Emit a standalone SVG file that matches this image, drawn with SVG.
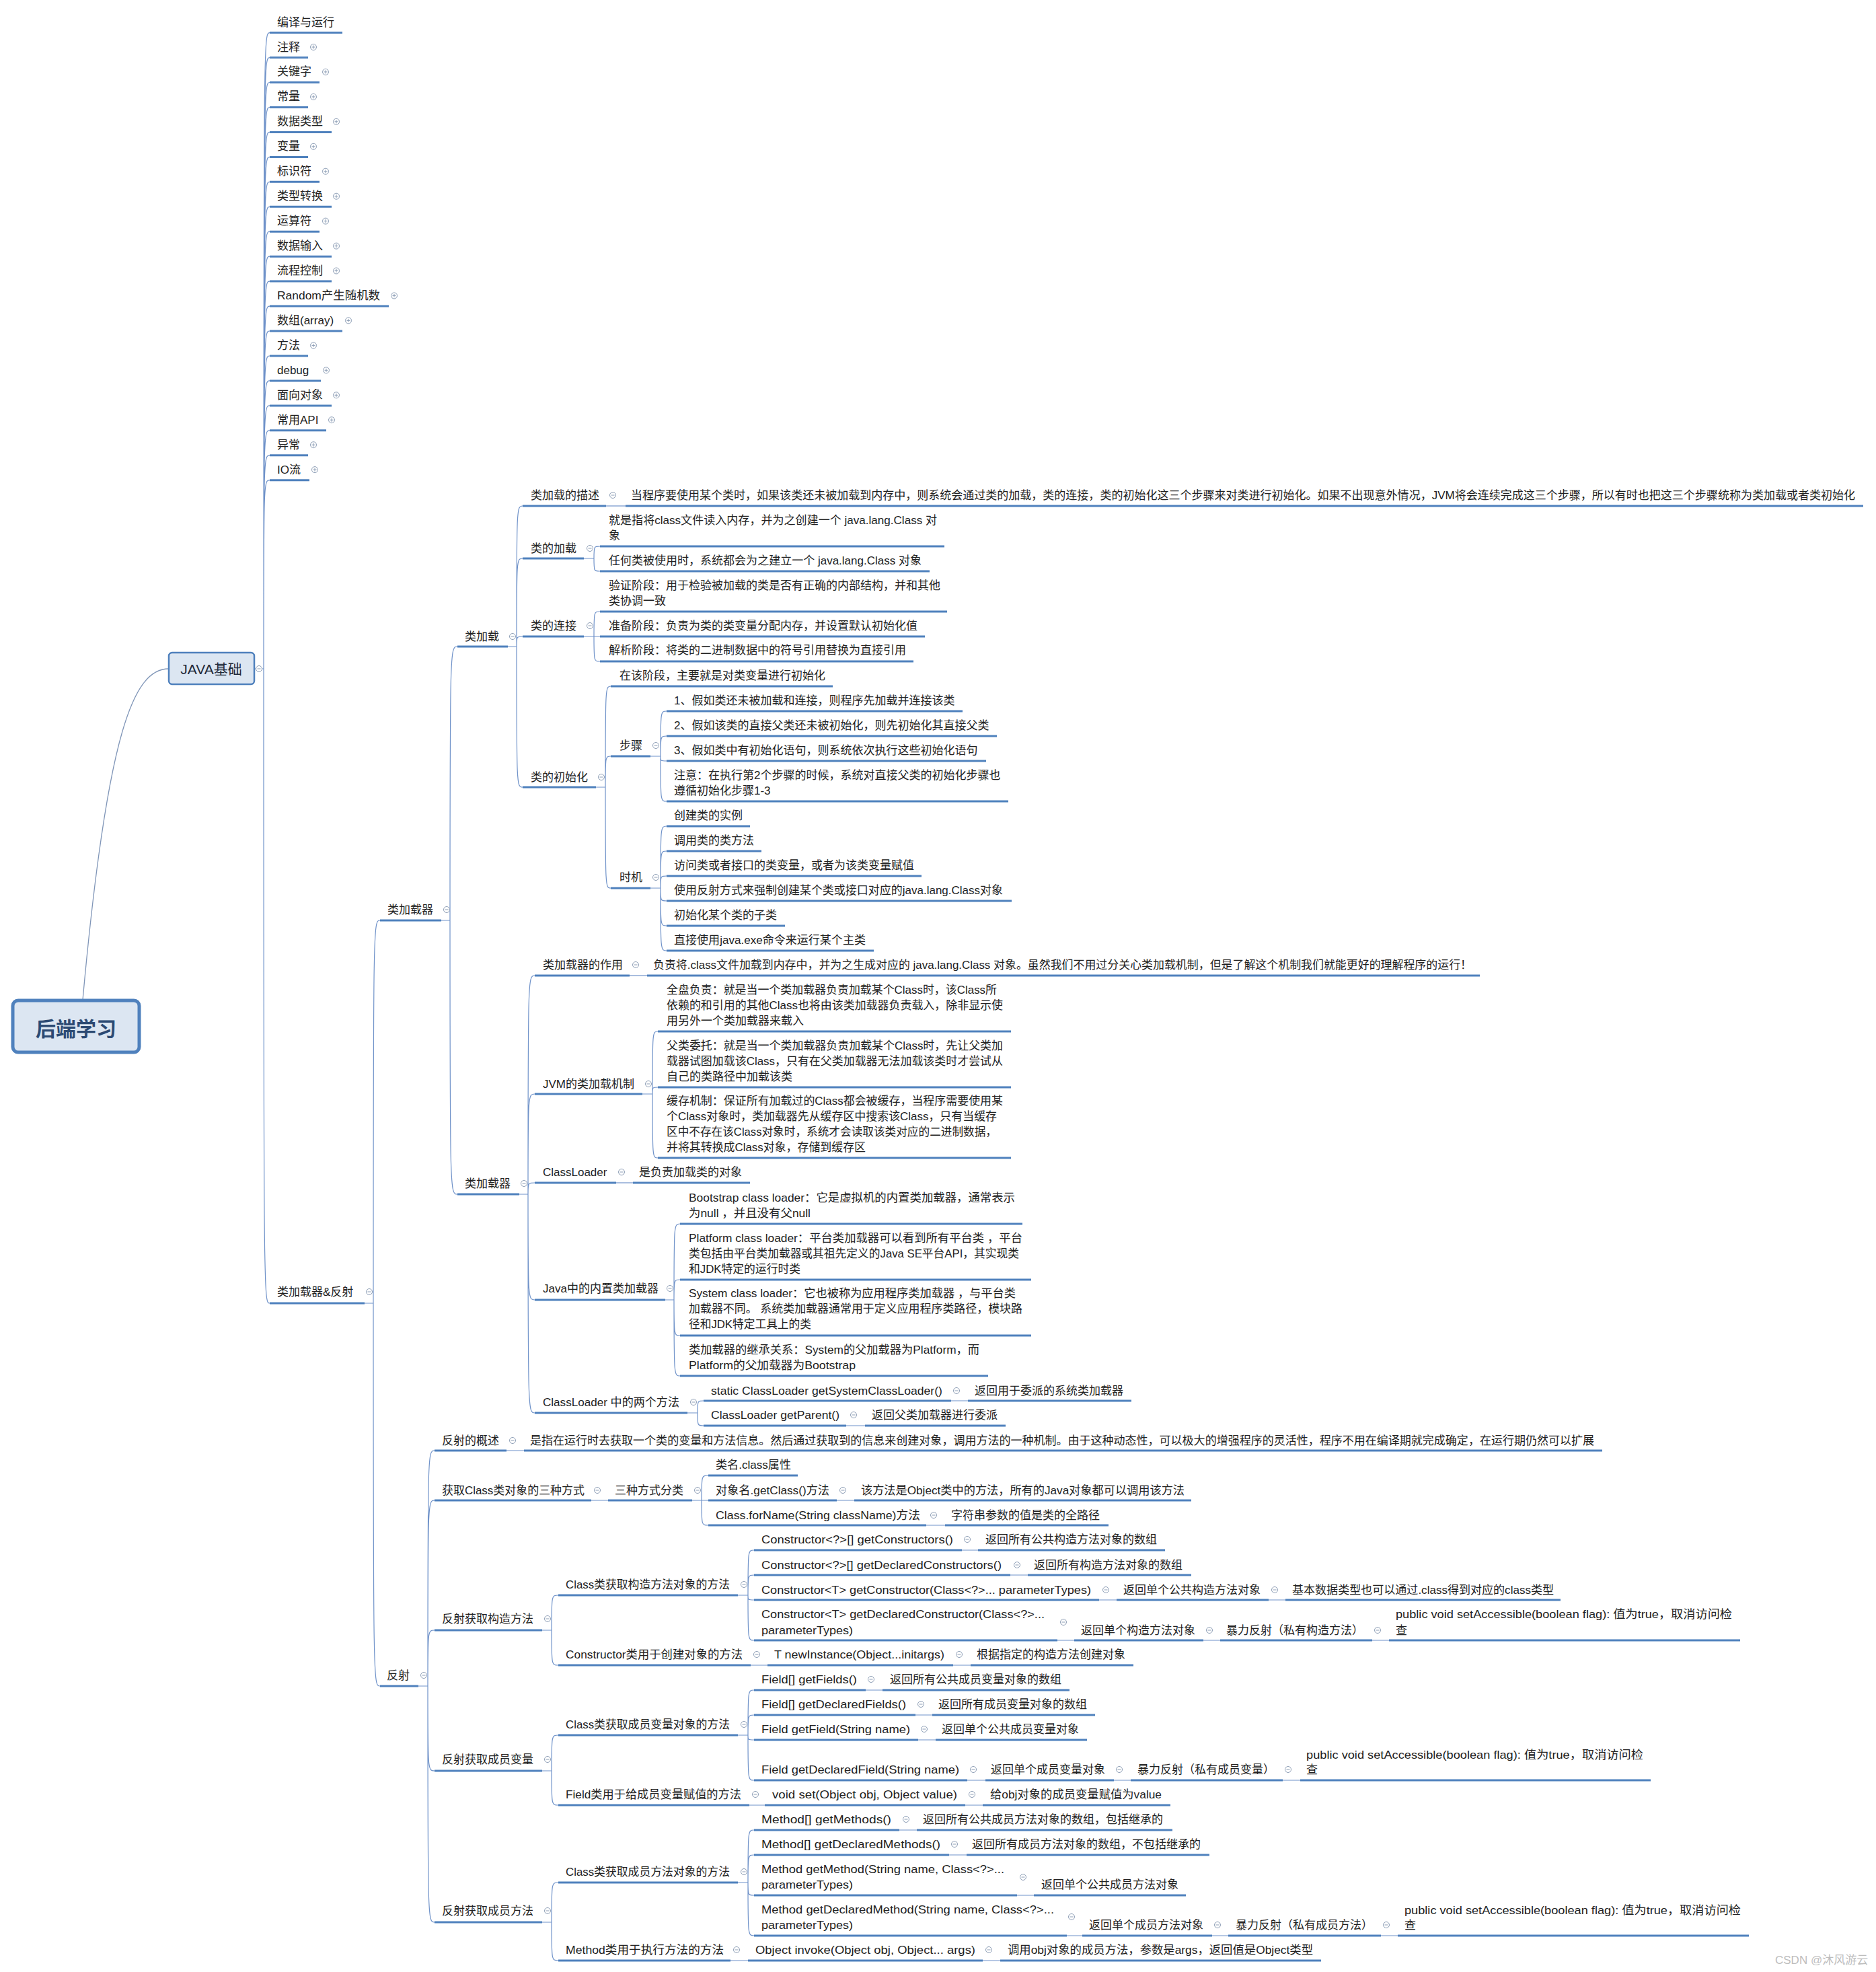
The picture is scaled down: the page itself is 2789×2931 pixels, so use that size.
<svg xmlns="http://www.w3.org/2000/svg" xmlns:xlink="http://www.w3.org/1999/xlink" width="2789" height="2931" viewBox="0 0 2789 2931">
<style>
.t{font-family:"Liberation Sans","Noto Sans CJK SC",sans-serif;font-size:17px;fill:#222;dominant-baseline:central}
.u{stroke:#4f81bd;stroke-width:3;fill:none}
.c{stroke:#6f92c9;stroke-width:1.2;fill:none}
.c0{stroke:#8096b8;stroke-width:1.3;fill:none}
.wm{font-family:"Liberation Sans","Noto Sans CJK SC",sans-serif;font-size:17px;fill:#bdbdbd;dominant-baseline:central}
</style>
<defs>
<g id="mi"><circle r="4.5" fill="#fff" stroke="#8c9db5" stroke-width="1"/><path d="M-2.5 0H2.5" stroke="#8c9db5" stroke-width="1"/></g>
<g id="pl"><circle r="4.5" fill="#fff" stroke="#8c9db5" stroke-width="1"/><path d="M-2.5 0H2.5M0 -2.5V2.5" stroke="#8c9db5" stroke-width="1"/></g>
</defs>
<rect width="2789" height="2931" fill="#fff"/>
<g id="connectors">
<path class="c0" d="M251 994C200 994 160 1080 123 1486"/>
<path class="c" d="M378 994H392C392 48.6 392 48.6 401 48.6M378 994H392C392 85.6 392 85.6 401 85.6M378 994H392C392 122.5 392 122.5 401 122.5M378 994H392C392 159.5 392 159.5 401 159.5M378 994H392C392 196.4 392 196.4 401 196.4M378 994H392C392 233.4 392 233.4 401 233.4M378 994H392C392 270.3 392 270.3 401 270.3M378 994H392C392 307.3 392 307.3 401 307.3M378 994H392C392 344.2 392 344.2 401 344.2M378 994H392C392 381.2 392 381.2 401 381.2M378 994H392C392 418.1 392 418.1 401 418.1M378 994H392C392 455.1 392 455.1 401 455.1M378 994H392C392 492 392 492 401 492M378 994H392C392 529 392 529 401 529M378 994H392C392 565.9 392 565.9 401 565.9M378 994H392C392 602.9 392 602.9 401 602.9M378 994H392C392 639.8 392 639.8 401 639.8M378 994H392C392 676.8 392 676.8 401 676.8M378 994H392C392 713.7 392 713.7 401 713.7M378 994H392C392 1937 392 1937 401 1937"/>
<path class="c" d="M542 1937H555C555 1368 555 1368 565 1368M542 1937H555C555 2506 555 2506 565 2506"/>
<path class="c" d="M656 1368H669C669 961 669 961 680 961M656 1368H669C669 1775 669 1775 680 1775"/>
<path class="c" d="M755 961H768C768 752 768 752 777 752M755 961H768C768 830 768 830 777 830M755 961H768C768 946 768 946 777 946M755 961H768C768 1170 768 1170 777 1170"/>
<path class="c" d="M901 752H930"/>
<path class="c" d="M868 830H883C883 812 883 812 892 812M868 830H883C883 849 883 849 892 849"/>
<path class="c" d="M868 946H883C883 909 883 909 892 909M868 946H892M868 946H883C883 983 883 983 892 983"/>
<path class="c" d="M886 1170H900C900 1020 900 1020 908 1020M886 1170H900C900 1124 900 1124 908 1124M886 1170H900C900 1320 900 1320 908 1320"/>
<path class="c" d="M967 1124H982C982 1057 982 1057 991 1057M967 1124H982C982 1094 982 1094 991 1094M967 1124H982C982 1131 982 1131 991 1131M967 1124H982C982 1191 982 1191 991 1191"/>
<path class="c" d="M967 1320H982C982 1228 982 1228 991 1228M967 1320H982C982 1265 982 1265 991 1265M967 1320H982C982 1302 982 1302 991 1302M967 1320H982C982 1339 982 1339 991 1339M967 1320H982C982 1376 982 1376 991 1376M967 1320H982C982 1413 982 1413 991 1413"/>
<path class="c" d="M772 1775H785C785 1450 785 1450 795 1450M772 1775H785C785 1626 785 1626 795 1626M772 1775H785C785 1758 785 1758 795 1758M772 1775H785C785 1932 785 1932 795 1932M772 1775H785C785 2100 785 2100 795 2100"/>
<path class="c" d="M936 1450H962"/>
<path class="c" d="M955 1626H970C970 1533 970 1533 978 1533M955 1626H970C970 1616 970 1616 978 1616M955 1626H970C970 1721 970 1721 978 1721"/>
<path class="c" d="M916 1758H941"/>
<path class="c" d="M989 1932H1002C1002 1819 1002 1819 1011 1819M989 1932H1002C1002 1902 1002 1902 1011 1902M989 1932H1002C1002 1985 1002 1985 1011 1985M989 1932H1002C1002 2045 1002 2045 1011 2045"/>
<path class="c" d="M1022 2100H1037C1037 2082 1037 2082 1046 2082M1022 2100H1037C1037 2119 1037 2119 1046 2119"/>
<path class="c" d="M1414 2082H1439M1258 2119H1286"/>
<path class="c" d="M622 2506H636C636 2156 636 2156 646 2156M622 2506H636C636 2230 636 2230 646 2230M622 2506H636C636 2423 636 2423 646 2423M622 2506H636C636 2632 636 2632 646 2632M622 2506H636C636 2857 636 2857 646 2857"/>
<path class="c" d="M753 2156H779M879 2230H904"/>
<path class="c" d="M1029 2230H1043C1043 2193 1043 2193 1053 2193M1029 2230H1053M1029 2230H1043C1043 2267 1043 2267 1053 2267"/>
<path class="c" d="M1244 2230H1270M1377 2267H1405"/>
<path class="c" d="M806 2423H820C820 2371 820 2371 830 2371M806 2423H820C820 2475 820 2475 830 2475"/>
<path class="c" d="M1097 2371H1112C1112 2304 1112 2304 1121 2304M1097 2371H1112C1112 2341 1112 2341 1121 2341M1097 2371H1112C1112 2378 1112 2378 1121 2378M1097 2371H1112C1112 2438 1112 2438 1121 2438"/>
<path class="c" d="M1430 2304H1454M1502 2341H1528M1634 2378H1660M1886 2378H1911M1572 2438H1597M1789 2438H1814M2040 2438H2065M1116 2475H1141M1417 2475H1443"/>
<path class="c" d="M806 2632H820C820 2579 820 2579 830 2579M806 2632H820C820 2683 820 2683 830 2683"/>
<path class="c" d="M1097 2579H1112C1112 2512 1112 2512 1121 2512M1097 2579H1112C1112 2549 1112 2549 1121 2549M1097 2579H1112C1112 2586 1112 2586 1121 2586M1097 2579H1112C1112 2646 1112 2646 1121 2646"/>
<path class="c" d="M1287 2512H1312M1361 2549H1386M1365 2586H1391M1438 2646H1465M1656 2646H1681M1907 2646H1933M1114 2683H1137M1435 2683H1461"/>
<path class="c" d="M806 2857H820C820 2798 820 2798 830 2798M806 2857H820C820 2914 820 2914 830 2914"/>
<path class="c" d="M1097 2798H1112C1112 2720 1112 2720 1121 2720M1097 2798H1112C1112 2757 1112 2757 1121 2757M1097 2798H1112C1112 2817 1112 2817 1121 2817M1097 2798H1112C1112 2877 1112 2877 1121 2877"/>
<path class="c" d="M1337 2720H1363M1411 2757H1437M1512 2817H1537M1586 2877H1609M1802 2877H1826M2053 2877H2078M1086 2914H1112M1461 2914H1487"/>
</g>

<g id="n-root"><rect x="19" y="1487" width="188" height="77" rx="8" fill="#dce6f2" stroke="#4f81bd" stroke-width="5"/><text x="113" y="1527" text-anchor="middle" font-family="'Noto Sans CJK SC',sans-serif" font-size="30" font-weight="bold" fill="#2c4a73" dominant-baseline="central">后端学习</text></g>
<g id="n-java"><rect x="251" y="970" width="127" height="47" rx="5" fill="#dce6f2" stroke="#4f81bd" stroke-width="2.5"/><text x="314" y="994" text-anchor="middle" font-family="'Liberation Sans','Noto Sans CJK SC',sans-serif" font-size="21" fill="#1f2a3a" dominant-baseline="central">JAVA基础</text><use href="#mi" x="385" y="994"/></g>

<g id="n-j0"><text class="t" x="412" y="33">编译与运行</text><path class="u" d="M401 48.6H509"/></g>
<g id="n-j1"><text class="t" x="412" y="70">注释</text><path class="u" d="M401 85.6H458"/><use href="#pl" x="466" y="70"/></g>
<g id="n-j2"><text class="t" x="412" y="106.9">关键字</text><path class="u" d="M401 122.5H475"/><use href="#pl" x="484" y="106.9"/></g>
<g id="n-j3"><text class="t" x="412" y="143.9">常量</text><path class="u" d="M401 159.5H458"/><use href="#pl" x="466" y="143.9"/></g>
<g id="n-j4"><text class="t" x="412" y="180.8">数据类型</text><path class="u" d="M401 196.4H493"/><use href="#pl" x="500" y="180.8"/></g>
<g id="n-j5"><text class="t" x="412" y="217.8">变量</text><path class="u" d="M401 233.4H458"/><use href="#pl" x="466" y="217.8"/></g>
<g id="n-j6"><text class="t" x="412" y="254.7">标识符</text><path class="u" d="M401 270.3H475"/><use href="#pl" x="484" y="254.7"/></g>
<g id="n-j7"><text class="t" x="412" y="291.7">类型转换</text><path class="u" d="M401 307.3H493"/><use href="#pl" x="500" y="291.7"/></g>
<g id="n-j8"><text class="t" x="412" y="328.6">运算符</text><path class="u" d="M401 344.2H475"/><use href="#pl" x="484" y="328.6"/></g>
<g id="n-j9"><text class="t" x="412" y="365.6">数据输入</text><path class="u" d="M401 381.2H493"/><use href="#pl" x="500" y="365.6"/></g>
<g id="n-j10"><text class="t" x="412" y="402.5">流程控制</text><path class="u" d="M401 418.1H493"/><use href="#pl" x="500" y="402.5"/></g>
<g id="n-j11"><text class="t" x="412" y="439.5" textLength="153" lengthAdjust="spacingAndGlyphs">Random产生随机数</text><path class="u" d="M401 455.1H578"/><use href="#pl" x="586" y="439.5"/></g>
<g id="n-j12"><text class="t" x="412" y="476.4">数组(array)</text><path class="u" d="M401 492H509"/><use href="#pl" x="518" y="476.4"/></g>
<g id="n-j13"><text class="t" x="412" y="513.4">方法</text><path class="u" d="M401 529H458"/><use href="#pl" x="466" y="513.4"/></g>
<g id="n-j14"><text class="t" x="412" y="550.3">debug</text><path class="u" d="M401 565.9H477"/><use href="#pl" x="485" y="550.3"/></g>
<g id="n-j15"><text class="t" x="412" y="587.3">面向对象</text><path class="u" d="M401 602.9H493"/><use href="#pl" x="500" y="587.3"/></g>
<g id="n-j16"><text class="t" x="412" y="624.2">常用API</text><path class="u" d="M401 639.8H485"/><use href="#pl" x="493" y="624.2"/></g>
<g id="n-j17"><text class="t" x="412" y="661.2">异常</text><path class="u" d="M401 676.8H458"/><use href="#pl" x="466" y="661.2"/></g>
<g id="n-j18"><text class="t" x="412" y="698.1">IO流</text><path class="u" d="M401 713.7H460"/><use href="#pl" x="468" y="698.1"/></g>
<g id="n-j19"><text class="t" x="412" y="1920">类加载器&amp;反射</text><path class="u" d="M401 1937H542"/><use href="#mi" x="549" y="1920"/></g>

<g id="n-cl1"><text class="t" x="576" y="1352">类加载器</text><path class="u" d="M565 1368H656"/><use href="#mi" x="664" y="1352"/></g>
<g id="n-lj"><text class="t" x="691" y="946">类加载</text><path class="u" d="M680 961H755"/><use href="#mi" x="762" y="946"/></g>
<g id="n-ljms"><text class="t" x="789" y="736">类加载的描述</text><path class="u" d="M777 752H901"/><use href="#mi" x="911" y="736"/></g>
<g id="n-ljms-d"><text class="t" x="938" y="736" textLength="1820" lengthAdjust="spacingAndGlyphs">当程序要使用某个类时，如果该类还未被加载到内存中，则系统会通过类的加载，类的连接，类的初始化这三个步骤来对类进行初始化。如果不出现意外情况，JVM将会连续完成这三个步骤，所以有时也把这三个步骤统称为类加载或者类初始化</text><path class="u" d="M930 752H2770"/></g>
<g id="n-ldjz"><text class="t" x="789" y="815">类的加载</text><path class="u" d="M777 830H868"/><use href="#mi" x="877" y="815"/></g>
<g id="n-ldjz-1"><text class="t" x="905" y="773" textLength="488" lengthAdjust="spacingAndGlyphs">就是指将class文件读入内存，并为之创建一个 java.lang.Class 对</text><text class="t" x="905" y="796">象</text><path class="u" d="M892 812H1404"/></g>
<g id="n-ldjz-2"><text class="t" x="905" y="833" textLength="465" lengthAdjust="spacingAndGlyphs">任何类被使用时，系统都会为之建立一个 java.lang.Class 对象</text><path class="u" d="M892 849H1382"/></g>
<g id="n-ldlj"><text class="t" x="789" y="930">类的连接</text><path class="u" d="M777 946H868"/><use href="#mi" x="877" y="930"/></g>
<g id="n-ldlj-1"><text class="t" x="905" y="870">验证阶段：用于检验被加载的类是否有正确的内部结构，并和其他</text><text class="t" x="905" y="893">类协调一致</text><path class="u" d="M892 909H1408"/></g>
<g id="n-ldlj-2"><text class="t" x="905" y="930">准备阶段：负责为类的类变量分配内存，并设置默认初始化值</text><path class="u" d="M892 946H1375"/></g>
<g id="n-ldlj-3"><text class="t" x="905" y="966">解析阶段：将类的二进制数据中的符号引用替换为直接引用</text><path class="u" d="M892 983H1358"/></g>
<g id="n-ldcsh"><text class="t" x="789" y="1155">类的初始化</text><path class="u" d="M777 1170H886"/><use href="#mi" x="894" y="1155"/></g>
<g id="n-ldcsh-1"><text class="t" x="921" y="1004">在该阶段，主要就是对类变量进行初始化</text><path class="u" d="M908 1020H1238"/></g>
<g id="n-bz"><text class="t" x="921" y="1108">步骤</text><path class="u" d="M908 1124H967"/><use href="#mi" x="975" y="1108"/></g>
<g id="n-bz-1"><text class="t" x="1002" y="1041">1、假如类还未被加载和连接，则程序先加载并连接该类</text><path class="u" d="M991 1057H1431"/></g>
<g id="n-bz-2"><text class="t" x="1002" y="1078">2、假如该类的直接父类还未被初始化，则先初始化其直接父类</text><path class="u" d="M991 1094H1482"/></g>
<g id="n-bz-3"><text class="t" x="1002" y="1115">3、假如类中有初始化语句，则系统依次执行这些初始化语句</text><path class="u" d="M991 1131H1466"/></g>
<g id="n-bz-4"><text class="t" x="1002" y="1152">注意：在执行第2个步骤的时候，系统对直接父类的初始化步骤也</text><text class="t" x="1002" y="1175">遵循初始化步骤1-3</text><path class="u" d="M991 1191H1499"/></g>
<g id="n-sj"><text class="t" x="921" y="1304">时机</text><path class="u" d="M908 1320H967"/><use href="#mi" x="975" y="1304"/></g>
<g id="n-sj-1"><text class="t" x="1002" y="1212">创建类的实例</text><path class="u" d="M991 1228H1115"/></g>
<g id="n-sj-2"><text class="t" x="1002" y="1249">调用类的类方法</text><path class="u" d="M991 1265H1132"/></g>
<g id="n-sj-3"><text class="t" x="1002" y="1286">访问类或者接口的类变量，或者为该类变量赋值</text><path class="u" d="M991 1302H1370"/></g>
<g id="n-sj-4"><text class="t" x="1002" y="1323" textLength="489" lengthAdjust="spacingAndGlyphs">使用反射方式来强制创建某个类或接口对应的java.lang.Class对象</text><path class="u" d="M991 1339H1504"/></g>
<g id="n-sj-5"><text class="t" x="1002" y="1360">初始化某个类的子类</text><path class="u" d="M991 1376H1167"/></g>
<g id="n-sj-6"><text class="t" x="1002" y="1397" textLength="285" lengthAdjust="spacingAndGlyphs">直接使用java.exe命令来运行某个主类</text><path class="u" d="M991 1413H1299"/></g>

<g id="n-cl2"><text class="t" x="691" y="1759">类加载器</text><path class="u" d="M680 1775H772"/><use href="#mi" x="779" y="1759"/></g>
<g id="n-zy"><text class="t" x="807" y="1434">类加载器的作用</text><path class="u" d="M795 1450H936"/><use href="#mi" x="945" y="1434"/></g>
<g id="n-zy-d"><text class="t" x="971" y="1434" textLength="1217" lengthAdjust="spacingAndGlyphs">负责将.class文件加载到内存中，并为之生成对应的 java.lang.Class 对象。虽然我们不用过分关心类加载机制，但是了解这个机制我们就能更好的理解程序的运行！</text><path class="u" d="M962 1450H2200"/></g>
<g id="n-jvm"><text class="t" x="807" y="1611">JVM的类加载机制</text><path class="u" d="M795 1626H955"/><use href="#mi" x="964" y="1611"/></g>
<g id="n-jvm-1"><text class="t" x="991" y="1471" textLength="491" lengthAdjust="spacingAndGlyphs">全盘负责：就是当一个类加载器负责加载某个Class时，该Class所</text><text class="t" x="991" y="1494" textLength="500" lengthAdjust="spacingAndGlyphs">依赖的和引用的其他Class也将由该类加载器负责载入，除非显示使</text><text class="t" x="991" y="1517">用另外一个类加载器来载入</text><path class="u" d="M978 1533H1503"/></g>
<g id="n-jvm-2"><text class="t" x="991" y="1554" textLength="500" lengthAdjust="spacingAndGlyphs">父类委托：就是当一个类加载器负责加载某个Class时，先让父类加</text><text class="t" x="991" y="1577" textLength="500" lengthAdjust="spacingAndGlyphs">载器试图加载该Class，只有在父类加载器无法加载该类时才尝试从</text><text class="t" x="991" y="1600">自己的类路径中加载该类</text><path class="u" d="M978 1616H1503"/></g>
<g id="n-jvm-3"><text class="t" x="991" y="1636" textLength="500" lengthAdjust="spacingAndGlyphs">缓存机制：保证所有加载过的Class都会被缓存，当程序需要使用某</text><text class="t" x="991" y="1659" textLength="491" lengthAdjust="spacingAndGlyphs">个Class对象时，类加载器先从缓存区中搜索该Class，只有当缓存</text><text class="t" x="991" y="1682" textLength="491" lengthAdjust="spacingAndGlyphs">区中不存在该Class对象时，系统才会读取该类对应的二进制数据，</text><text class="t" x="991" y="1705" textLength="296" lengthAdjust="spacingAndGlyphs">并将其转换成Class对象，存储到缓存区</text><path class="u" d="M978 1721H1503"/></g>
<g id="n-cload"><text class="t" x="807" y="1742">ClassLoader</text><path class="u" d="M795 1758H916"/><use href="#mi" x="924" y="1742"/></g>
<g id="n-cload-d"><text class="t" x="950" y="1742">是负责加载类的对象</text><path class="u" d="M941 1758H1115"/></g>
<g id="n-nz"><text class="t" x="807" y="1915" textLength="172" lengthAdjust="spacingAndGlyphs">Java中的内置类加载器</text><path class="u" d="M795 1932H989"/><use href="#mi" x="996" y="1915"/></g>
<g id="n-nz-1"><text class="t" x="1024" y="1780" textLength="485" lengthAdjust="spacingAndGlyphs">Bootstrap class loader：它是虚拟机的内置类加载器，通常表示</text><text class="t" x="1024" y="1803" textLength="181" lengthAdjust="spacingAndGlyphs">为null ，并且没有父null</text><path class="u" d="M1011 1819H1520"/></g>
<g id="n-nz-2"><text class="t" x="1024" y="1840" textLength="496" lengthAdjust="spacingAndGlyphs">Platform class loader：平台类加载器可以看到所有平台类 ，平台</text><text class="t" x="1024" y="1863" textLength="491" lengthAdjust="spacingAndGlyphs">类包括由平台类加载器或其祖先定义的Java SE平台API，其实现类</text><text class="t" x="1024" y="1886" textLength="166" lengthAdjust="spacingAndGlyphs">和JDK特定的运行时类</text><path class="u" d="M1011 1902H1533"/></g>
<g id="n-nz-3"><text class="t" x="1024" y="1922" textLength="486" lengthAdjust="spacingAndGlyphs">System class loader：它也被称为应用程序类加载器 ，与平台类</text><text class="t" x="1024" y="1945" textLength="496" lengthAdjust="spacingAndGlyphs">加载器不同。 系统类加载器通常用于定义应用程序类路径，模块路</text><text class="t" x="1024" y="1968" textLength="182" lengthAdjust="spacingAndGlyphs">径和JDK特定工具上的类</text><path class="u" d="M1011 1985H1533"/></g>
<g id="n-nz-4"><text class="t" x="1024" y="2006" textLength="432" lengthAdjust="spacingAndGlyphs">类加载器的继承关系：System的父加载器为Platform，而</text><text class="t" x="1024" y="2029" textLength="248" lengthAdjust="spacingAndGlyphs">Platform的父加载器为Bootstrap</text><path class="u" d="M1011 2045H1469"/></g>
<g id="n-lg"><text class="t" x="807" y="2084" textLength="203" lengthAdjust="spacingAndGlyphs">ClassLoader 中的两个方法</text><path class="u" d="M795 2100H1022"/><use href="#mi" x="1031" y="2084"/></g>
<g id="n-lg-1"><text class="t" x="1057" y="2067" textLength="344" lengthAdjust="spacingAndGlyphs">static ClassLoader getSystemClassLoader()</text><path class="u" d="M1046 2082H1414"/><use href="#mi" x="1422" y="2067"/></g>
<g id="n-lg-1d"><text class="t" x="1449" y="2067">返回用于委派的系统类加载器</text><path class="u" d="M1439 2082H1682"/></g>
<g id="n-lg-2"><text class="t" x="1057" y="2103" textLength="191" lengthAdjust="spacingAndGlyphs">ClassLoader getParent()</text><path class="u" d="M1046 2119H1258"/><use href="#mi" x="1269" y="2103"/></g>
<g id="n-lg-2d"><text class="t" x="1296" y="2103">返回父类加载器进行委派</text><path class="u" d="M1286 2119H1495"/></g>

<g id="n-fs"><text class="t" x="575" y="2490">反射</text><path class="u" d="M565 2506H622"/><use href="#mi" x="630" y="2490"/></g>
<g id="n-gs"><text class="t" x="657" y="2141">反射的概述</text><path class="u" d="M646 2156H753"/><use href="#mi" x="762" y="2141"/></g>
<g id="n-gs-d"><text class="t" x="788" y="2141" textLength="1582" lengthAdjust="spacingAndGlyphs">是指在运行时去获取一个类的变量和方法信息。然后通过获取到的信息来创建对象，调用方法的一种机制。由于这种动态性，可以极大的增强程序的灵活性，程序不用在编译期就完成确定，在运行期仍然可以扩展</text><path class="u" d="M779 2156H2382"/></g>
<g id="n-hq"><text class="t" x="657" y="2215" textLength="212" lengthAdjust="spacingAndGlyphs">获取Class类对象的三种方式</text><path class="u" d="M646 2230H879"/><use href="#mi" x="888" y="2215"/></g>
<g id="n-sz"><text class="t" x="914" y="2215">三种方式分类</text><path class="u" d="M904 2230H1029"/><use href="#mi" x="1037" y="2215"/></g>
<g id="n-sz-1"><text class="t" x="1064" y="2177" textLength="112" lengthAdjust="spacingAndGlyphs">类名.class属性</text><path class="u" d="M1053 2193H1186"/></g>
<g id="n-sz-2"><text class="t" x="1064" y="2215" textLength="169" lengthAdjust="spacingAndGlyphs">对象名.getClass()方法</text><path class="u" d="M1053 2230H1244"/><use href="#mi" x="1253" y="2215"/></g>
<g id="n-sz-2d"><text class="t" x="1280" y="2215" textLength="481" lengthAdjust="spacingAndGlyphs">该方法是Object类中的方法，所有的Java对象都可以调用该方法</text><path class="u" d="M1270 2230H1771"/></g>
<g id="n-sz-3"><text class="t" x="1064" y="2252" textLength="304" lengthAdjust="spacingAndGlyphs">Class.forName(String className)方法</text><path class="u" d="M1053 2267H1377"/><use href="#mi" x="1388" y="2252"/></g>
<g id="n-sz-3d"><text class="t" x="1414" y="2252">字符串参数的值是类的全路径</text><path class="u" d="M1405 2267H1648"/></g>

<g id="n-gz"><text class="t" x="657" y="2406">反射获取构造方法</text><path class="u" d="M646 2423H806"/><use href="#mi" x="814" y="2406"/></g>
<g id="n-gz-a"><text class="t" x="841" y="2355" textLength="244" lengthAdjust="spacingAndGlyphs">Class类获取构造方法对象的方法</text><path class="u" d="M830 2371H1097"/><use href="#mi" x="1106" y="2355"/></g>
<g id="n-gz-a1"><text class="t" x="1132" y="2288" textLength="285" lengthAdjust="spacingAndGlyphs">Constructor&lt;?&gt;[] getConstructors()</text><path class="u" d="M1121 2304H1430"/><use href="#mi" x="1438" y="2288"/></g>
<g id="n-gz-a1d"><text class="t" x="1465" y="2288">返回所有公共构造方法对象的数组</text><path class="u" d="M1454 2304H1732"/></g>
<g id="n-gz-a2"><text class="t" x="1132" y="2326" textLength="357" lengthAdjust="spacingAndGlyphs">Constructor&lt;?&gt;[] getDeclaredConstructors()</text><path class="u" d="M1121 2341H1502"/><use href="#mi" x="1512" y="2326"/></g>
<g id="n-gz-a2d"><text class="t" x="1537" y="2326">返回所有构造方法对象的数组</text><path class="u" d="M1528 2341H1771"/></g>
<g id="n-gz-a3"><text class="t" x="1132" y="2363" textLength="490" lengthAdjust="spacingAndGlyphs">Constructor&lt;T&gt; getConstructor(Class&lt;?&gt;... parameterTypes)</text><path class="u" d="M1121 2378H1634"/><use href="#mi" x="1644" y="2363"/></g>
<g id="n-gz-a3d"><text class="t" x="1670" y="2363">返回单个公共构造方法对象</text><path class="u" d="M1660 2378H1886"/><use href="#mi" x="1895" y="2363"/></g>
<g id="n-gz-a3e"><text class="t" x="1921" y="2363" textLength="389" lengthAdjust="spacingAndGlyphs">基本数据类型也可以通过.class得到对应的class类型</text><path class="u" d="M1911 2378H2320"/></g>
<g id="n-gz-a4"><text class="t" x="1132" y="2399" textLength="421" lengthAdjust="spacingAndGlyphs">Constructor&lt;T&gt; getDeclaredConstructor(Class&lt;?&gt;...</text><text class="t" x="1132" y="2423" textLength="136" lengthAdjust="spacingAndGlyphs">parameterTypes)</text><path class="u" d="M1121 2438H1572"/><use href="#mi" x="1581" y="2411"/></g>
<g id="n-gz-a4d"><text class="t" x="1607" y="2423">返回单个构造方法对象</text><path class="u" d="M1597 2438H1789"/><use href="#mi" x="1798" y="2423"/></g>
<g id="n-gz-a4e"><text class="t" x="1823" y="2423">暴力反射（私有构造方法）</text><path class="u" d="M1814 2438H2040"/><use href="#mi" x="2048" y="2423"/></g>
<g id="n-gz-a4f"><text class="t" x="2075" y="2399" textLength="500" lengthAdjust="spacingAndGlyphs">public void setAccessible(boolean flag): 值为true，取消访问检</text><text class="t" x="2075" y="2423">查</text><path class="u" d="M2065 2438H2587"/></g>
<g id="n-gz-b"><text class="t" x="841" y="2459" textLength="263" lengthAdjust="spacingAndGlyphs">Constructor类用于创建对象的方法</text><path class="u" d="M830 2475H1116"/><use href="#mi" x="1125" y="2459"/></g>
<g id="n-gz-b1"><text class="t" x="1151" y="2459" textLength="253" lengthAdjust="spacingAndGlyphs">T newInstance(Object...initargs)</text><path class="u" d="M1141 2475H1417"/><use href="#mi" x="1426" y="2459"/></g>
<g id="n-gz-b1d"><text class="t" x="1452" y="2459">根据指定的构造方法创建对象</text><path class="u" d="M1443 2475H1685"/></g>

<g id="n-bl"><text class="t" x="657" y="2615">反射获取成员变量</text><path class="u" d="M646 2632H806"/><use href="#mi" x="814" y="2615"/></g>
<g id="n-bl-a"><text class="t" x="841" y="2563" textLength="244" lengthAdjust="spacingAndGlyphs">Class类获取成员变量对象的方法</text><path class="u" d="M830 2579H1097"/><use href="#mi" x="1106" y="2563"/></g>
<g id="n-bl-a1"><text class="t" x="1132" y="2496" textLength="142" lengthAdjust="spacingAndGlyphs">Field[] getFields()</text><path class="u" d="M1121 2512H1287"/><use href="#mi" x="1295" y="2496"/></g>
<g id="n-bl-a1d"><text class="t" x="1323" y="2496">返回所有公共成员变量对象的数组</text><path class="u" d="M1312 2512H1590"/></g>
<g id="n-bl-a2"><text class="t" x="1132" y="2533" textLength="215" lengthAdjust="spacingAndGlyphs">Field[] getDeclaredFields()</text><path class="u" d="M1121 2549H1361"/><use href="#mi" x="1369" y="2533"/></g>
<g id="n-bl-a2d"><text class="t" x="1395" y="2533">返回所有成员变量对象的数组</text><path class="u" d="M1386 2549H1628"/></g>
<g id="n-bl-a3"><text class="t" x="1132" y="2570" textLength="221" lengthAdjust="spacingAndGlyphs">Field getField(String name)</text><path class="u" d="M1121 2586H1365"/><use href="#mi" x="1374" y="2570"/></g>
<g id="n-bl-a3d"><text class="t" x="1400" y="2570">返回单个公共成员变量对象</text><path class="u" d="M1391 2586H1616"/></g>
<g id="n-bl-a4"><text class="t" x="1132" y="2630" textLength="294" lengthAdjust="spacingAndGlyphs">Field getDeclaredField(String name)</text><path class="u" d="M1121 2646H1438"/><use href="#mi" x="1447" y="2630"/></g>
<g id="n-bl-a4d"><text class="t" x="1473" y="2630">返回单个成员变量对象</text><path class="u" d="M1465 2646H1656"/><use href="#mi" x="1664" y="2630"/></g>
<g id="n-bl-a4e"><text class="t" x="1691" y="2630">暴力反射（私有成员变量）</text><path class="u" d="M1681 2646H1907"/><use href="#mi" x="1915" y="2630"/></g>
<g id="n-bl-a4f"><text class="t" x="1942" y="2608" textLength="501" lengthAdjust="spacingAndGlyphs">public void setAccessible(boolean flag): 值为true，取消访问检</text><text class="t" x="1942" y="2630">查</text><path class="u" d="M1933 2646H2454"/></g>
<g id="n-bl-b"><text class="t" x="841" y="2667" textLength="261" lengthAdjust="spacingAndGlyphs">Field类用于给成员变量赋值的方法</text><path class="u" d="M830 2683H1114"/><use href="#mi" x="1123" y="2667"/></g>
<g id="n-bl-b1"><text class="t" x="1148" y="2667" textLength="275" lengthAdjust="spacingAndGlyphs">void set(Object obj, Object value)</text><path class="u" d="M1137 2683H1435"/><use href="#mi" x="1445" y="2667"/></g>
<g id="n-bl-b1d"><text class="t" x="1472" y="2667" textLength="255" lengthAdjust="spacingAndGlyphs">给obj对象的成员变量赋值为value</text><path class="u" d="M1461 2683H1740"/></g>

<g id="n-ff"><text class="t" x="657" y="2840">反射获取成员方法</text><path class="u" d="M646 2857H806"/><use href="#mi" x="814" y="2840"/></g>
<g id="n-ff-a"><text class="t" x="841" y="2782" textLength="244" lengthAdjust="spacingAndGlyphs">Class类获取成员方法对象的方法</text><path class="u" d="M830 2798H1097"/><use href="#mi" x="1106" y="2782"/></g>
<g id="n-ff-a1"><text class="t" x="1132" y="2704" textLength="193" lengthAdjust="spacingAndGlyphs">Method[] getMethods()</text><path class="u" d="M1121 2720H1337"/><use href="#mi" x="1347" y="2704"/></g>
<g id="n-ff-a1d"><text class="t" x="1372" y="2704">返回所有公共成员方法对象的数组，包括继承的</text><path class="u" d="M1363 2720H1743"/></g>
<g id="n-ff-a2"><text class="t" x="1132" y="2741" textLength="266" lengthAdjust="spacingAndGlyphs">Method[] getDeclaredMethods()</text><path class="u" d="M1121 2757H1411"/><use href="#mi" x="1419" y="2741"/></g>
<g id="n-ff-a2d"><text class="t" x="1445" y="2741">返回所有成员方法对象的数组，不包括继承的</text><path class="u" d="M1437 2757H1798"/></g>
<g id="n-ff-a3"><text class="t" x="1132" y="2778" textLength="361" lengthAdjust="spacingAndGlyphs">Method getMethod(String name, Class&lt;?&gt;...</text><text class="t" x="1132" y="2801" textLength="136" lengthAdjust="spacingAndGlyphs">parameterTypes)</text><path class="u" d="M1121 2817H1512"/><use href="#mi" x="1521" y="2790"/></g>
<g id="n-ff-a3d"><text class="t" x="1548" y="2801">返回单个公共成员方法对象</text><path class="u" d="M1537 2817H1763"/></g>
<g id="n-ff-a4"><text class="t" x="1132" y="2838" textLength="435" lengthAdjust="spacingAndGlyphs">Method getDeclaredMethod(String name, Class&lt;?&gt;...</text><text class="t" x="1132" y="2861" textLength="136" lengthAdjust="spacingAndGlyphs">parameterTypes)</text><path class="u" d="M1121 2877H1586"/><use href="#mi" x="1593" y="2849"/></g>
<g id="n-ff-a4d"><text class="t" x="1619" y="2861">返回单个成员方法对象</text><path class="u" d="M1609 2877H1802"/><use href="#mi" x="1810" y="2861"/></g>
<g id="n-ff-a4e"><text class="t" x="1837" y="2861">暴力反射（私有成员方法）</text><path class="u" d="M1826 2877H2053"/><use href="#mi" x="2061" y="2861"/></g>
<g id="n-ff-a4f"><text class="t" x="2088" y="2839" textLength="500" lengthAdjust="spacingAndGlyphs">public void setAccessible(boolean flag): 值为true，取消访问检</text><text class="t" x="2088" y="2861">查</text><path class="u" d="M2078 2877H2600"/></g>
<g id="n-ff-b"><text class="t" x="841" y="2898" textLength="235" lengthAdjust="spacingAndGlyphs">Method类用于执行方法的方法</text><path class="u" d="M830 2914H1086"/><use href="#mi" x="1095" y="2898"/></g>
<g id="n-ff-b1"><text class="t" x="1123" y="2898" textLength="327" lengthAdjust="spacingAndGlyphs">Object invoke(Object obj, Object... args)</text><path class="u" d="M1112 2914H1461"/><use href="#mi" x="1470" y="2898"/></g>
<g id="n-ff-b1d"><text class="t" x="1498" y="2898" textLength="454" lengthAdjust="spacingAndGlyphs">调用obj对象的成员方法，参数是args，返回值是Object类型</text><path class="u" d="M1487 2914H1964"/></g>

<text class="wm" x="2639" y="2913">CSDN @沐风游云</text>
</svg>
